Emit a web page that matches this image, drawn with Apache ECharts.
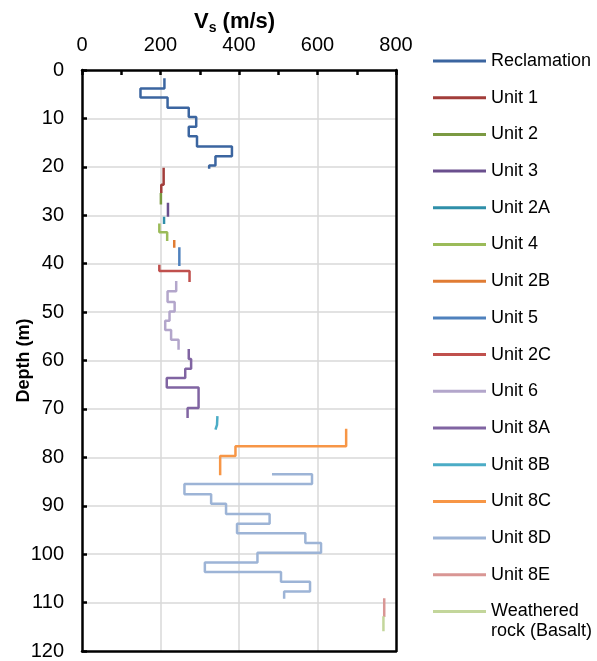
<!DOCTYPE html>
<html>
<head>
<meta charset="utf-8">
<script src="https://cdn.jsdelivr.net/npm/echarts@6/dist/echarts.min.js"></script>
<style>html,body{margin:0;padding:0;background:#fff}#c{width:597px;height:661px}</style>
</head>
<body>
<div id="c"></div>
<script>
// Each series: [Vs (m/s), depth (m)] points of the step profile
const reclamation = [[210,1.7],[210,3.8],[149,3.8],[149,5.7],[218,5.7],[218,7.8],[272,7.8],[272,9.7],[291,9.7],[291,11.7],[272,11.7],[272,13.7],[293,13.7],[293,15.8],[382,15.8],[382,17.8],[340,17.8],[340,19.7],[324,19.7],[324,20.4]];
const unit1 = [[208,20.2],[208,23.7],[202,23.7],[202,25.4]];
const unit2 = [[201,25.4],[201,27.8]];
const unit3 = [[219,27.4],[219,30.3]];
const unit2A = [[209,30.3],[209,31.8]];
const unit4 = [[197,31.7],[197,33.5],[217,33.5],[217,35.3]];
const unit2B = [[235,35.1],[235,36.7]];
const unit5 = [[248,36.6],[248,40.5]];
const unit2C = [[197,40.2],[197,41.5],[274,41.5],[274,43.8]];
const unit6 = [[240,43.6],[240,45.7],[218,45.7],[218,47.9],[236,47.9],[236,49.9],[223,49.9],[223,51.8],[212,51.8],[212,53.7],[227,53.7],[227,55.7],[246,55.7],[246,57.8]];
const unit8A = [[272,57.6],[272,59.7],[278,59.7],[278,61.7],[263,61.7],[263,63.6],[216,63.6],[216,65.6],[297,65.6],[297,69.8],[269,69.8],[269,71.9]];
const unit8B = [[345,71.5],[344,73.3],[340,74.3]];
const unit8C = [[673,74.1],[673,77.7],[391,77.7],[391,79.7],[352,79.7],[352,83.7]];
const unit8D = [[484,83.5],[586,83.5],[586,85.5],[261,85.5],[261,87.6],[329,87.6],[329,89.6],[367,89.6],[367,91.7],[478,91.7],[478,93.7],[395,93.7],[395,95.7],[569,95.7],[569,97.7],[609,97.7],[609,99.7],[447,99.7],[447,101.7],[313,101.7],[313,103.7],[507,103.7],[507,105.7],[581,105.7],[581,107.7],[515,107.7],[515,109.2]];
const unit8E = [[770,109.1],[770,113.0]];
const weathered = [[768,112.8],[768,115.9]];

const seriesNames = ['Reclamation','Unit 1','Unit 2','Unit 3','Unit 2A','Unit 4','Unit 2B','Unit 5','Unit 2C','Unit 6','Unit 8A','Unit 8B','Unit 8C','Unit 8D','Unit 8E','Weathered rock (Basalt)'];
const seriesData = [reclamation,unit1,unit2,unit3,unit2A,unit4,unit2B,unit5,unit2C,unit6,unit8A,unit8B,unit8C,unit8D,unit8E,weathered];
const seriesColors = ['#3B65A0','#A23D3A','#7B9A42','#6A4F8E','#2F8FA9','#9BBB59','#E07C34','#4F81BD','#C0504D','#B3A6CB','#8064A2','#4BACC6','#F79646','#9DB4D6','#D99694','#C3D69B'];
// legend label lines (last entry wraps onto two lines)
const lastLegendLines = ['Weathered', 'rock (Basalt)'];

const xTicks = [0, 800, 200]; // min, max, interval
const yTicks = [0, 120, 10];

const chart = echarts.init(document.getElementById('c'), null, {renderer: 'canvas'});
const FONT = 'Liberation Sans, Arial, sans-serif';
const frameLine = { show: true, onZero: false, lineStyle: { color: '#000', width: 2.5 } };
const tickStyle = { color: '#000', width: 2.5 };
const gridLine = { show: true, showMinLine: false, showMaxLine: false, lineStyle: { color: '#D9D9D9', width: 1.5 } };

chart.setOption({
  animation: false,
  title: {
    text: '{v|V}{s|s}{r| (m/s)}',
    left: 189, top: 4,
    textStyle: {
      rich: {
        v: { fontSize: 22, fontWeight: 'bold', fontFamily: FONT, color: '#000', lineHeight: 26 },
        s: { fontSize: 14, fontWeight: 'bold', fontFamily: FONT, color: '#000', lineHeight: 12, verticalAlign: 'bottom' },
        r: { fontSize: 22, fontWeight: 'bold', fontFamily: FONT, color: '#000', lineHeight: 26 }
      }
    }
  },
  legend: {
    orient: 'vertical',
    left: 433, top: 50.5, height: 640,
    padding: 0,
    icon: 'rect',
    itemWidth: 53, itemHeight: 3,
    itemGap: 15.7,
    selectedMode: false,
    textStyle: { fontSize: 18, fontFamily: FONT, color: '#000', lineHeight: 21 },
    formatter: (name) => name === seriesNames[seriesNames.length - 1] ? lastLegendLines[0] : name,
    data: seriesNames
  },
  graphic: [{
    type: 'text', left: 491, top: 622,
    style: { text: lastLegendLines[1], fontSize: 18, fontFamily: FONT, fill: '#000' }
  }],
  grid: {
    left: 82, top: 70, width: 314, height: 581,
    outerBoundsMode: 'none', containLabel: false
  },
  xAxis: [{
    type: 'value', position: 'top',
    min: xTicks[0], max: xTicks[1], interval: xTicks[2],
    axisLine: frameLine,
    axisTick: { show: true, inside: true, length: 5, lineStyle: tickStyle },
    minorTick: { show: true, splitNumber: 2, length: 5, lineStyle: tickStyle },
    axisLabel: { fontSize: 20, fontFamily: FONT, color: '#000', margin: 15 },
    splitLine: gridLine
  }, {
    type: 'value', position: 'bottom',
    min: xTicks[0], max: xTicks[1], interval: xTicks[2],
    axisLine: frameLine, axisTick: { show: false }, axisLabel: { show: false }, splitLine: { show: false }
  }],
  yAxis: [{
    type: 'value', inverse: true, position: 'left',
    min: yTicks[0], max: yTicks[1], interval: yTicks[2],
    name: 'Depth (m)', nameLocation: 'middle', nameGap: 49, nameMoveOverlap: false,
    nameTextStyle: { fontSize: 18, fontWeight: 'bold', fontFamily: FONT, color: '#000' },
    axisLine: frameLine,
    axisTick: { show: true, inside: true, length: 5, lineStyle: tickStyle },
    axisLabel: { fontSize: 20, fontFamily: FONT, color: '#000', margin: 18 },
    splitLine: gridLine
  }, {
    type: 'value', inverse: true, position: 'right',
    min: yTicks[0], max: yTicks[1], interval: yTicks[2],
    axisLine: frameLine, axisTick: { show: false }, axisLabel: { show: false }, splitLine: { show: false }
  }],
  series: seriesNames.map((n, i) => ({
    name: n, type: 'line', data: seriesData[i],
    xAxisIndex: 0, yAxisIndex: 0,
    showSymbol: false, symbol: 'none',
    lineStyle: { width: 2.5, color: seriesColors[i] },
    itemStyle: { color: seriesColors[i] }
  }))
});
</script>
</body>
</html>
